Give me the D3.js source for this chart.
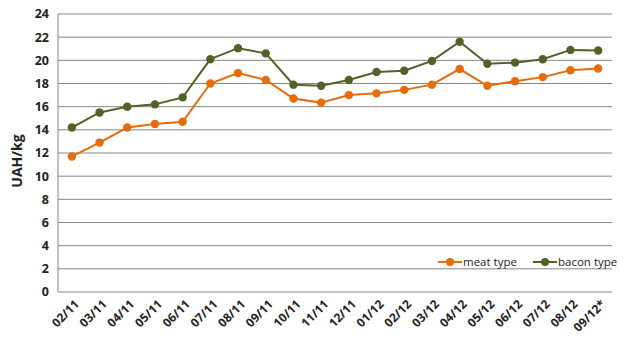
<!DOCTYPE html>
<html><head><meta charset="utf-8">
<script src="https://cdn.jsdelivr.net/npm/d3@7/dist/d3.min.js"></script>
<style>body{margin:0;background:#fff}svg{display:block}text{font-family:"Open Sans","Noto Sans",sans-serif;font-weight:bold;fill:#222}</style>
</head><body><svg id="c" width="630" height="346"></svg>
<script>
const categories = ["02/11","03/11","04/11","05/11","06/11","07/11","08/11","09/11","10/11","11/11","12/11","01/12","02/12","03/12","04/12","05/12","06/12","07/12","08/12","09/12*"];
const meatType = [11.7,12.9,14.2,14.5,14.7,18.0,18.9,18.3,16.7,16.35,17.0,17.15,17.45,17.9,19.25,17.8,18.2,18.55,19.15,19.3];
const baconType = [14.2,15.5,16.0,16.2,16.8,20.1,21.05,20.6,17.9,17.8,18.3,19.0,19.1,19.95,21.6,19.7,19.8,20.1,20.9,20.85];
const yTicks = [0,2,4,6,8,10,12,14,16,18,20,22,24];
const seriesNames = ["meat type","bacon type"];
const colors = ["#E46C0A","#4F6228"];

const svg = d3.select("#c");
const L=58,R=612,T=14,B=292;
const x = d3.scaleBand().domain(categories).range([L,R]);
const y = d3.scaleLinear().domain([0,24]).range([B,T]);

svg.append("g").selectAll("line").data(yTicks).join("line")
  .attr("x1",L).attr("x2",R).attr("y1",d=>y(d)).attr("y2",d=>y(d))
  .attr("stroke","#868686").attr("stroke-width",1);
svg.append("line").attr("x1",L).attr("x2",L).attr("y1",T).attr("y2",B).attr("stroke","#868686");

svg.append("g").selectAll("text").data(yTicks).join("text")
  .attr("x",L-9).attr("y",d=>y(d)).attr("dy","0.35em").attr("text-anchor","end")
  .attr("font-size",12.5).text(d=>d);

svg.append("g").selectAll("text").data(categories).join("text")
  .attr("transform",d=>`translate(${x(d)+x.bandwidth()/2+5},${B+10}) rotate(-45)`)
  .attr("text-anchor","end").attr("dy","0.35em").attr("font-size",12).text(d=>d);

svg.append("text").attr("transform",`translate(17,161) rotate(-90)`)
  .attr("text-anchor","middle").attr("dy","0.35em").attr("font-size",14).text("UAH/kg");

const cx = d=>x(d)+x.bandwidth()/2;
[meatType,baconType].forEach((s,i)=>{
  const line = d3.line().x((d,j)=>cx(categories[j])).y(d=>y(d));
  svg.append("path").attr("d",line(s)).attr("fill","none").attr("stroke",colors[i]).attr("stroke-width",2);
  svg.append("g").selectAll("circle").data(s).join("circle")
    .attr("cx",(d,j)=>cx(categories[j])).attr("cy",d=>y(d)).attr("r",4.2).attr("fill",colors[i]);
});

const legX=[438,533], legY=262;
seriesNames.forEach((n,i)=>{
  const g=svg.append("g");
  g.append("line").attr("x1",legX[i]).attr("x2",legX[i]+24).attr("y1",legY).attr("y2",legY).attr("stroke",colors[i]).attr("stroke-width",2);
  g.append("circle").attr("cx",legX[i]+12).attr("cy",legY).attr("r",4).attr("fill",colors[i]);
  g.append("text").attr("x",legX[i]+25).attr("y",legY).attr("dy","0.35em").attr("font-size",11.5).style("font-weight","normal").text(n);
});
</script></body></html>
